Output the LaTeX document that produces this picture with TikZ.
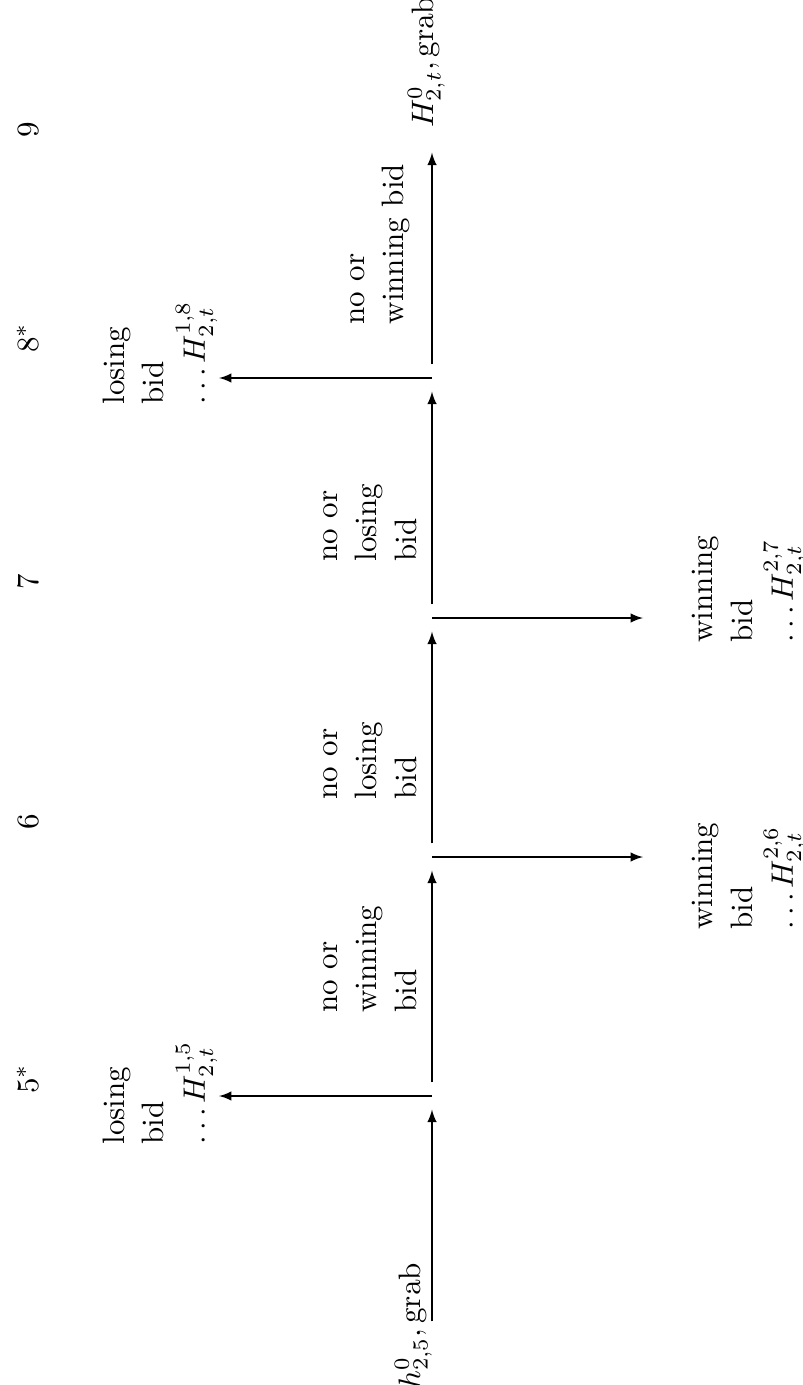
\documentclass[tikz,border=0pt]{standalone}
\usetikzlibrary{arrows}
\newcommand{\lns}[1]{\begin{tabular}[t]{@{}l@{}}#1\end{tabular}}
\begin{document}
\begin{tikzpicture}[x=0.3226pt, y=-0.3226pt, >=latex,
  jn/.style={circle, inner sep=0pt, minimum size=8.4pt},
  lbl/.style={rotate=90, inner sep=0pt, font=\fontsize{10}{12.9}\selectfont},
  arr/.style={->, line width=0.4pt}]
\useasboundingbox (0,0) rectangle (802,1385);
% junctions
\node[jn] (n0) at (432,1335) {};
\node[jn] (n5) at (432,1096) {};
\node[jn] (n6) at (432,857) {};
\node[jn] (n7) at (432,618) {};
\node[jn] (n8) at (432,378) {};
\node[jn] (n9) at (432,139) {};
\coordinate (l5) at (219,1096);
\coordinate (l8) at (219,378);
\coordinate (r6) at (643,857);
\coordinate (r7) at (643,618);
% connectors
\draw[arr] (n0) -- (n5);
\draw[arr] (n5) -- (n6);
\draw[arr] (n6) -- (n7);
\draw[arr] (n7) -- (n8);
\draw[arr] (n8) -- (n9);
\draw[arr] (n5.center) -- (l5);
\draw[arr] (n8.center) -- (l8);
\draw[arr] (n6.center) -- (r6);
\draw[arr] (n7.center) -- (r7);
% end labels
\node[lbl, anchor=base] (s0) at (420,1326) {$h^0_{2,5}, \mathrm{grab}$};
\node[lbl, anchor=base west] (s9) at (433,128) {$H^0_{2,t}, \mathrm{grab}$};
% stage numbers
\node[lbl, anchor=base] (t5) at (38,1079) {$5^*$};
\node[lbl, anchor=base] (t6) at (38,822) {6};
\node[lbl, anchor=base] (t7) at (38,582) {7};
\node[lbl, anchor=base] (t8) at (38,338) {$8^*$};
\node[lbl, anchor=base] (t9) at (38,130) {9};
% edge labels
\node[lbl, anchor=base west] (e56) at (337,1013) {\lns{no or\\winning\\bid}};
\node[lbl, anchor=base west] (e67) at (337,800) {\lns{no or\\losing\\bid}};
\node[lbl, anchor=base west] (e78) at (337,562) {\lns{no or\\losing\\bid}};
\node[lbl, anchor=base west] (e89) at (364,325) {\lns{no or\\winning bid}};
% losing labels
\node[lbl, anchor=base west] (p5) at (124,1145) {\lns{losing\\bid\\$\ldots H^{1,5}_{2,t}$}};
\node[lbl, anchor=base west] (p8) at (124,405) {\lns{losing\\bid\\$\ldots H^{1,8}_{2,t}$}};
% winning labels
\node[lbl, anchor=base west] (q6) at (712,930) {\lns{winning\\bid\\$\ldots H^{2,6}_{2,t}$}};
\node[lbl, anchor=base west] (q7) at (712,643) {\lns{winning\\bid\\$\ldots H^{2,7}_{2,t}$}};
\end{tikzpicture}
\end{document}
